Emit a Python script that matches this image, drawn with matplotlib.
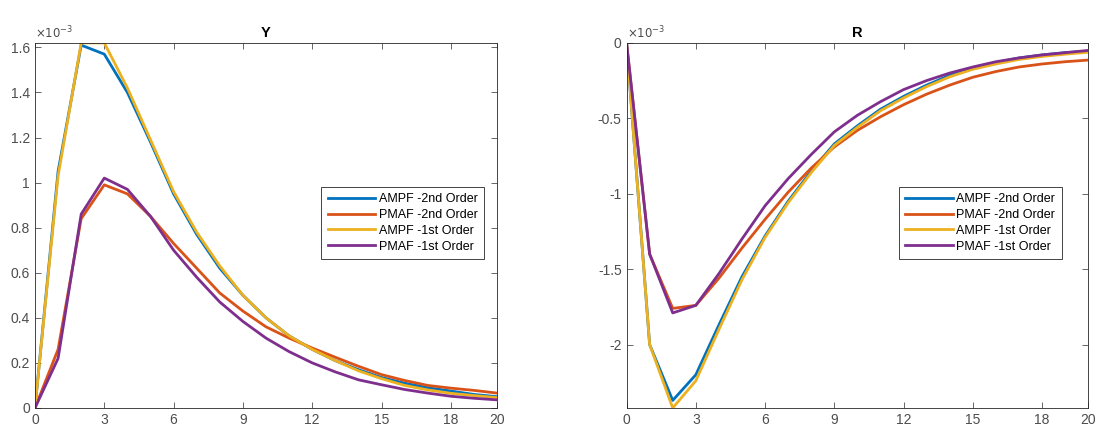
import numpy as np
import matplotlib
matplotlib.use("Agg")
import matplotlib.pyplot as plt
from matplotlib.ticker import FuncFormatter

plt.rcParams['font.family'] = ['Liberation Sans', 'DejaVu Sans']

# horizon
periods = list(range(21))

# impulse responses, in units of 1e-3
y_ampf2 = [0, 1.05, 1.61, 1.57, 1.40, 1.18, 0.95, 0.77, 0.62, 0.50, 0.40,
           0.32, 0.26, 0.21, 0.17, 0.135, 0.11, 0.09, 0.075, 0.06, 0.05]
y_pmaf2 = [0, 0.26, 0.84, 0.99, 0.95, 0.85, 0.73, 0.62, 0.51, 0.43, 0.36,
           0.31, 0.266, 0.225, 0.185, 0.148, 0.122, 0.10, 0.088, 0.078, 0.066]
y_ampf1 = [0, 1.03, 1.62, 1.62, 1.42, 1.19, 0.96, 0.78, 0.63, 0.50, 0.40,
           0.32, 0.26, 0.21, 0.165, 0.13, 0.10, 0.08, 0.065, 0.055, 0.046]
y_pmaf1 = [0, 0.22, 0.86, 1.02, 0.97, 0.85, 0.70, 0.58, 0.47, 0.384, 0.31,
           0.25, 0.20, 0.16, 0.125, 0.103, 0.082, 0.066, 0.052, 0.043, 0.036]

r_ampf2 = [0, -2.0, -2.37, -2.2, -1.87, -1.55, -1.28, -1.05, -0.85, -0.67, -0.55,
           -0.44, -0.355, -0.28, -0.215, -0.165, -0.13, -0.10, -0.08, -0.065, -0.055]
r_pmaf2 = [0, -1.4, -1.76, -1.74, -1.56, -1.36, -1.17, -0.99, -0.83, -0.69, -0.58,
           -0.49, -0.41, -0.34, -0.28, -0.228, -0.19, -0.16, -0.14, -0.125, -0.114]
r_ampf1 = [0, -2.0, -2.42, -2.24, -1.90, -1.57, -1.29, -1.06, -0.86, -0.68, -0.56,
           -0.45, -0.365, -0.29, -0.225, -0.175, -0.14, -0.11, -0.09, -0.075, -0.062]
r_pmaf1 = [0, -1.4, -1.79, -1.74, -1.53, -1.30, -1.08, -0.90, -0.74, -0.59, -0.48,
           -0.39, -0.31, -0.25, -0.20, -0.16, -0.125, -0.10, -0.08, -0.065, -0.05]

labels = ['AMPF -2nd Order', 'PMAF -2nd Order', 'AMPF -1st Order', 'PMAF -1st Order']
colors = ['#0072BD', '#D95319', '#EDB120', '#7E2F8E']

xticks = [0, 3, 6, 9, 12, 15, 18, 20]

fig = plt.figure(figsize=(11.07, 4.42), dpi=100)
ax1 = fig.add_axes([0.0316, 0.077, 0.4174, 0.826])
ax2 = fig.add_axes([0.566, 0.077, 0.417, 0.826])

panels = [
    (ax1, 'Y', [y_ampf2, y_pmaf2, y_ampf1, y_pmaf1], (0, 1.62), [0, 0.2, 0.4, 0.6, 0.8, 1, 1.2, 1.4, 1.6], (0.62, 0.605)),
    (ax2, 'R', [r_ampf2, r_pmaf2, r_ampf1, r_pmaf1], (-2.42, 0), [-2, -1.5, -1, -0.5, 0], (0.59, 0.605)),
]

for ax, title, series, ylim, yticks, legpos in panels:
    for vals, lab, c in zip(series, labels, colors):
        ax.plot(periods, vals, color=c, lw=2, label=lab)
    ax.set_xlim(0, 20)
    ax.set_ylim(*ylim)
    ax.set_xticks(xticks)
    ax.set_yticks(yticks)
    ax.yaxis.set_major_formatter(FuncFormatter(lambda v, p: f'{v:g}'))
    ax.tick_params(direction='in', top=True, right=True, labelsize=10,
                   colors='#4d4d4d', length=4, width=0.6)
    for s in ax.spines.values():
        s.set_color('#262626')
        s.set_linewidth(0.6)
    ax.set_title(title, fontsize=10.5, fontweight='bold', pad=4)
    ax.text(0, 1.005, r'$\times10^{-3}$', transform=ax.transAxes, fontsize=8.5,
            color='#4d4d4d', va='bottom', ha='left')
    leg = ax.legend(loc='upper left', bbox_to_anchor=legpos, fontsize=9,
                    fancybox=False, framealpha=1, edgecolor='#262626',
                    handlelength=3.8, handletextpad=0.3, borderpad=0.5,
                    labelspacing=0.3, borderaxespad=0)
    leg.get_frame().set_linewidth(0.6)

fig.savefig('out.png', dpi=100)
